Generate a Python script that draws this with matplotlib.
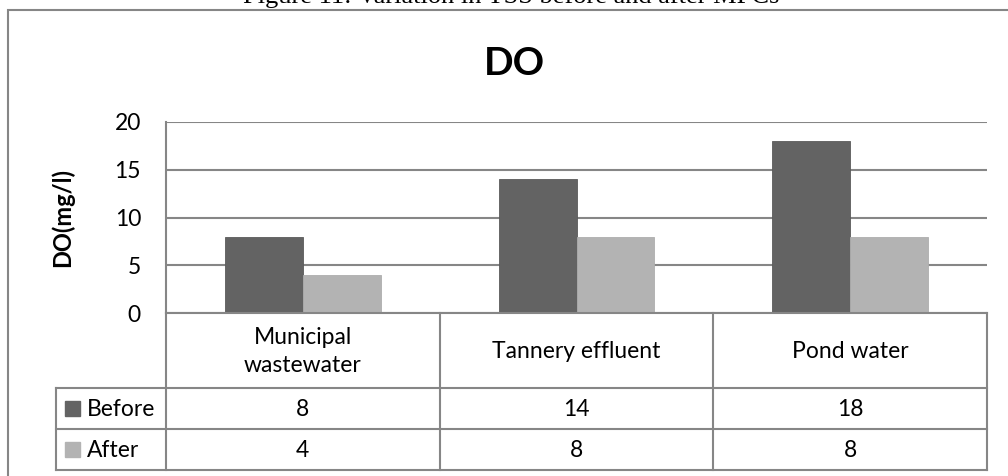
import matplotlib
matplotlib.use("Agg")
import matplotlib.pyplot as plt
import numpy as np

# --- data -------------------------------------------------------------
categories = ["Municipal\nwastewater", "Tannery effluent", "Pond water"]
series_names = ["Before", "After"]
before = [8, 14, 18]
after = [4, 8, 8]
yticks = [0, 5, 10, 15, 20]
caption = "Figure 11: Variation in TSS before and after MFCs"
title = "DO"
ylabel = "DO(mg/l)"

# --- style ------------------------------------------------------------
W, H = 1008, 476
DPI = 100
dark, light = "#636363", "#b3b3b3"
line_c = "#868686"
lw = 1.5
font = "Lato"
fs = 16.5

plt.rcParams["font.family"] = [font, "DejaVu Sans"]

fig = plt.figure(figsize=(W / DPI, H / DPI), dpi=DPI)
fig.patch.set_facecolor("white")

# pixel geometry of the plotting region and the data table
x_left, x_right = 166, 987
y_top, y_zero = 122, 313
row_cat, row_b, row_a = 388, 429, 470
leg_left = 56


def fx(px):
    return px / W


def fy(py):
    return 1 - py / H


ax = fig.add_axes([fx(x_left), fy(y_zero), fx(x_right) - fx(x_left), fy(y_top) - fy(y_zero)])
x = np.arange(len(categories))
bw = 0.285
ax.bar(x - bw / 2, before, bw, color=dark, edgecolor="#5a5a5a", linewidth=0.6, zorder=3)
ax.bar(x + bw / 2, after, bw, color=light, edgecolor="#adadad", linewidth=0.6, zorder=3)
ax.set_xlim(-0.5, len(categories) - 0.5)
ax.set_ylim(0, 20)
ax.set_yticks(yticks)
ax.yaxis.grid(True, color=line_c, linewidth=lw, zorder=0)
ax.set_axisbelow(True)
ax.set_xticks([])
ax.tick_params(axis="y", length=0, labelsize=fs, pad=18)
for s in ["top", "right", "bottom"]:
    ax.spines[s].set_visible(False)
ax.spines["left"].set_color(line_c)
ax.spines["left"].set_linewidth(lw)
ax.set_ylabel(ylabel, fontsize=17, fontweight="bold")
ax.yaxis.set_label_coords((74 - x_left) / (x_right - x_left), 0.5)

# overlay in pixel coordinates for the frame, caption, title and table
ov = fig.add_axes([0, 0, 1, 1], facecolor="none")
ov.set_xlim(0, W)
ov.set_ylim(H, 0)
ov.axis("off")

# outer chart frame
ov.plot([8, 8, W + 5], [H + 5, 10, 10], color=line_c, lw=lw, solid_joinstyle="miter")

ov.text(511, 3, caption, family="Liberation Serif", fontsize=19, ha="center", va="baseline")
ov.text(514, 75, title, fontsize=28, fontweight="bold", ha="center", va="baseline")

# table grid
col_edges = np.linspace(x_left, x_right, len(categories) + 1)
for xe in col_edges:
    ov.plot([xe, xe], [y_zero, row_a], color=line_c, lw=lw)
ov.plot([x_left, x_right], [y_zero, y_zero], color=line_c, lw=lw)
for yr in [row_cat, row_b, row_a]:
    ov.plot([leg_left, x_right], [yr, yr], color=line_c, lw=lw)
ov.plot([leg_left, leg_left], [row_cat, row_a], color=line_c, lw=lw)

centers = (col_edges[:-1] + col_edges[1:]) / 2
for cx, cat in zip(centers, categories):
    ov.text(cx, (y_zero + row_cat) / 2 + 1, cat, fontsize=fs, ha="center", va="center",
            linespacing=1.45)

rows = [(before, dark, row_cat, row_b), (after, light, row_b, row_a)]
for name, (vals, col, r0, r1) in zip(series_names, rows):
    cy = (r0 + r1) / 2
    ov.add_patch(plt.Rectangle((65, cy - 7.5), 15, 15, color=col))
    ov.text(87, cy + 1, name, fontsize=fs, ha="left", va="center")
    for cx, v in zip(centers, vals):
        ov.text(cx, cy + 1, str(v), fontsize=fs, ha="center", va="center")

fig.savefig("out.png", dpi=DPI)
